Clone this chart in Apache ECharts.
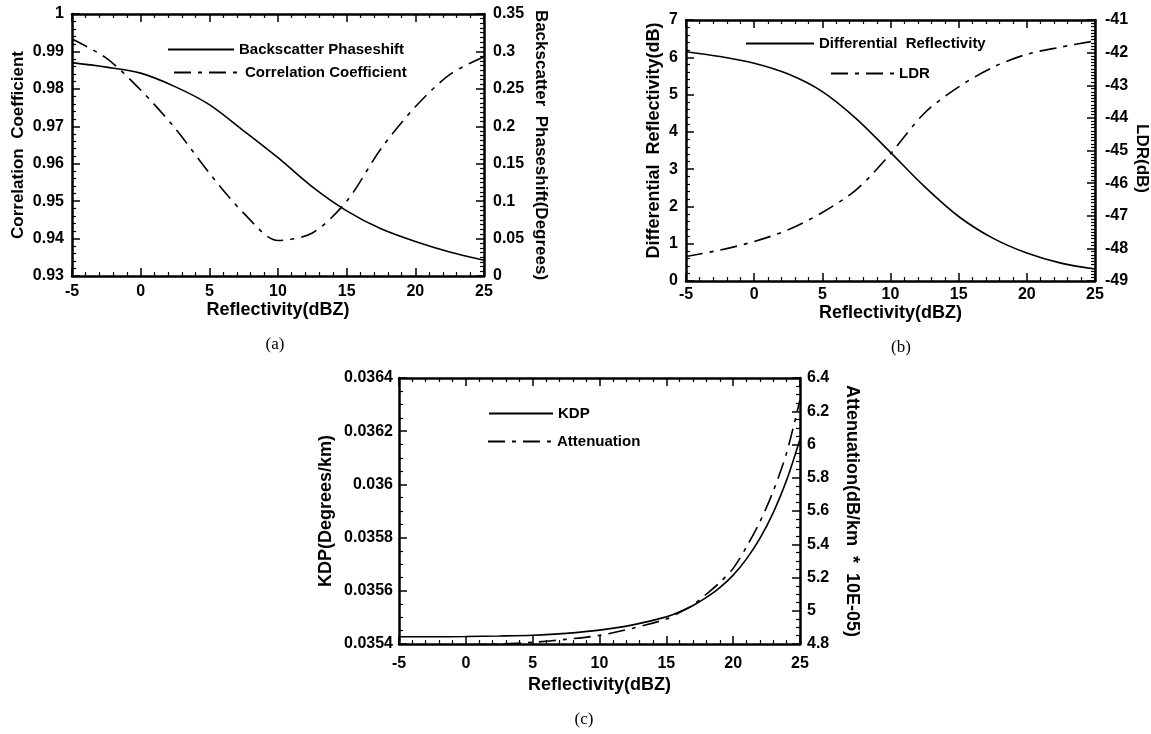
<!DOCTYPE html>
<html>
<head>
<meta charset="utf-8">
<title>Polarimetric radar parameters vs reflectivity</title>
<script src="https://cdn.jsdelivr.net/npm/echarts@6/dist/echarts.min.js"></script>
<style>
  html, body { margin: 0; padding: 0; background: #fff; }
  #chart { width: 1151px; height: 734px; }
</style>
</head>
<body>
<div id="chart"></div>
<script>
// Reflectivity sample points (dBZ)
const reflA = [-5, -2.5, 0, 2.5, 5, 7.5, 10, 12.5, 15, 17.5, 20, 22.5, 25];
// (a) Backscatter phaseshift (degrees) and correlation coefficient
const backscatterPhase = [0.285, 0.279, 0.271, 0.253, 0.229, 0.194, 0.158, 0.119, 0.087, 0.063, 0.046, 0.032, 0.021];
const correlationCoef = [0.9933, 0.9882, 0.9797, 0.9695, 0.9575, 0.9468, 0.9395, 0.9415, 0.9500, 0.9640, 0.9752, 0.9838, 0.9886];
// (b) Differential reflectivity (dB) and LDR (dB)
const diffRefl = [6.15, 6.02, 5.84, 5.55, 5.08, 4.35, 3.45, 2.53, 1.73, 1.15, 0.75, 0.48, 0.32];
const ldr = [-48.25, -48.05, -47.79, -47.43, -46.9, -46.2, -45.1, -43.85, -43.05, -42.45, -42.05, -41.83, -41.64];
// (c) KDP (degrees/km) and attenuation (dB/km * 10E-05)
const reflC = [-5, -2.5, 0, 2.5, 5, 7.5, 10, 12.5, 15, 16, 17, 18, 19, 20, 21, 22, 23, 24, 25];
const kdp = [0.035427, 0.035427, 0.035428, 0.03543, 0.035433, 0.03544, 0.035452, 0.035472, 0.035502,
             0.035521, 0.035545, 0.035575, 0.035612, 0.035659, 0.03572, 0.035797, 0.035894, 0.036016, 0.03617];
const attenuation = [4.79, 4.792, 4.795, 4.80, 4.81, 4.828, 4.852, 4.895, 4.950,
                     4.99, 5.035, 5.10, 5.17, 5.255, 5.385, 5.535, 5.72, 5.95, 6.27];

// Shared reflectivity axis range
const xTicks = { min: -5, max: 25, interval: 5 };

const FONT = 'Liberation Sans';
const pairs = (xs, ys) => xs.map((x, i) => [x, ys[i]]);
const dashDot = [17, 7, 4, 7];

function frameAxis(extra) {
  return Object.assign({
    type: 'value',
    axisLine: { show: true, onZero: false, lineStyle: { color: '#000', width: 2.5 } },
    axisTick: { show: true, inside: true, length: 8, lineStyle: { color: '#000', width: 1.5 } },
    minorTick: { show: true, splitNumber: 5, length: 4, lineStyle: { color: '#000', width: 1.2 } },
    splitLine: { show: false },
    minorSplitLine: { show: false },
    axisLabel: { color: '#000', fontFamily: FONT, fontWeight: 'bold', fontSize: 16, margin: 8 },
    nameLocation: 'middle',
    nameTextStyle: { color: '#000', fontFamily: FONT, fontWeight: 'bold', fontSize: 18 }
  }, extra);
}

function xPair(gridIndex, nameGap, margin) {
  return [
    frameAxis(Object.assign({ gridIndex, position: 'bottom', name: 'Reflectivity(dBZ)', nameGap }, xTicks,
      { axisLabel: { color: '#000', fontFamily: FONT, fontWeight: 'bold', fontSize: 16, margin } })),
    frameAxis(Object.assign({ gridIndex, position: 'top' }, xTicks, { axisLabel: { show: false } }))
  ];
}

function yAxis(gridIndex, position, min, max, interval, minorSplit, name, nameGap, margin, nameExtra) {
  return frameAxis({
    gridIndex, position, min, max, interval, name, nameGap,
    nameRotate: position === 'right' ? -90 : 90,
    minorTick: { show: true, splitNumber: minorSplit, length: 4, lineStyle: { color: '#000', width: 1.2 } },
    axisLabel: { color: '#000', fontFamily: FONT, fontWeight: 'bold', fontSize: 16, margin },
    nameTextStyle: Object.assign({ color: '#000', fontFamily: FONT, fontWeight: 'bold', fontSize: 18 }, nameExtra || {})
  });
}

function legendItem(name, left, top, width) {
  return {
    data: [name], left, top, orient: 'vertical',
    itemWidth: width, itemHeight: 14, padding: 0,
    selectedMode: false,
    itemStyle: { opacity: 0 },
    textStyle: { color: '#000', fontFamily: FONT, fontWeight: 'bold', fontSize: 15 }
  };
}

function lineSeries(name, xi, yi, data, dashed) {
  return {
    name, type: 'line', xAxisIndex: xi, yAxisIndex: yi, data,
    symbol: 'none', smooth: 0.3,
    lineStyle: { color: '#000', width: 1.6, type: dashed ? dashDot : 'solid' },
    itemStyle: { color: '#000' }
  };
}

const captionStyle = { fontFamily: 'Liberation Serif', fontWeight: 'normal', fontSize: 17, color: '#000' };

const option = {
  backgroundColor: '#fff',
  animation: false,
  title: [
    { text: '(a)', left: 275, top: 336, textAlign: 'center', padding: 0, textStyle: captionStyle },
    { text: '(b)', left: 901, top: 339, textAlign: 'center', padding: 0, textStyle: captionStyle },
    { text: '(c)', left: 584, top: 711, textAlign: 'center', padding: 0, textStyle: captionStyle }
  ],
  grid: [
    { left: 72, top: 14, width: 412, height: 262 },
    { left: 686, top: 20, width: 409, height: 261 },
    { left: 399, top: 378, width: 401, height: 266 }
  ],
  legend: [
    legendItem('Backscatter Phaseshift', 167, 42, 66),
    legendItem('Correlation Coefficient', 173, 65, 66),
    legendItem('Differential  Reflectivity', 745, 36, 68),
    legendItem('LDR', 830, 66, 63),
    legendItem('KDP', 488, 406, 64),
    legendItem('Attenuation', 487, 434, 64)
  ],
  xAxis: [].concat(xPair(0, 22, 8), xPair(1, 13, 6), xPair(2, 32, 12)),
  yAxis: [
    yAxis(0, 'left', 0.93, 1, 0.01, 5, 'Correlation  Coefficient', 45, 8, { fontSize: 17 }),
    yAxis(0, 'right', 0, 0.35, 0.05, 8, 'Backscatter  Phaseshift(Degrees)', 48, 9, { fontSize: 17 }),
    yAxis(1, 'left', 0, 7, 1, 5, 'Differential  Reflectivity(dB)', 23, 8, { padding: [0, 0, 0, 20] }),
    yAxis(1, 'right', -49, -41, 1, 10, 'LDR(dB)', 38, 10, { padding: [0, 0, 0, 16], fontSize: 17 }),
    yAxis(2, 'left', 0.0354, 0.0364, 0.0002, 4, 'KDP(Degrees/km)', 64, 6),
    yAxis(2, 'right', 4.8, 6.4, 0.2, 4, 'Attenuation(dB/km  *  10E-05)', 43, 7)
  ],
  series: [
    lineSeries('Backscatter Phaseshift', 0, 1, pairs(reflA, backscatterPhase), false),
    lineSeries('Correlation Coefficient', 0, 0, pairs(reflA, correlationCoef), true),
    lineSeries('Differential  Reflectivity', 2, 2, pairs(reflA, diffRefl), false),
    lineSeries('LDR', 2, 3, pairs(reflA, ldr), true),
    lineSeries('KDP', 4, 4, pairs(reflC, kdp), false),
    lineSeries('Attenuation', 4, 5, pairs(reflC, attenuation), true)
  ]
};

const chart = echarts.init(document.getElementById('chart'), null, { renderer: 'canvas' });
chart.setOption(option);
</script>
</body>
</html>
